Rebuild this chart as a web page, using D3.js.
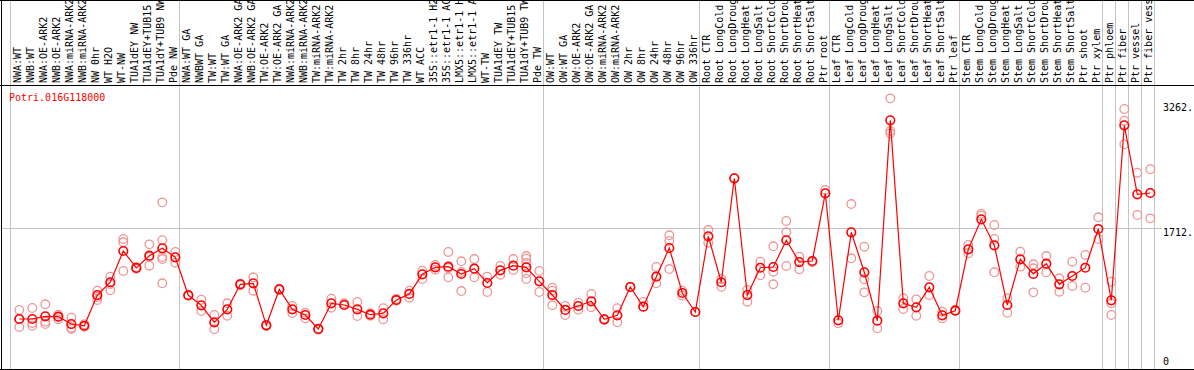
<!DOCTYPE html>
<html>
<head>
<meta charset="utf-8">
<script src="https://cdn.jsdelivr.net/npm/d3@7"></script>
<style>
  html, body { margin: 0; padding: 0; background: #fff; }
  svg { display: block; }
  text { font-family: "DejaVu Sans Mono", monospace; font-size: 10px; }
</style>
</head>
<body>
<div id="chart"></div>
<script>
// Sample labels (one column each)
const labels = [
  "NWA:WT", "NWB:WT", "NWA:OE-ARK2", "NWB:OE-ARK2", "NWA:miRNA-ARK2", "NWB:miRNA-ARK2",
  "NW 0hr", "WT H2O", "WT-NW", "TUA1dEY NW", "TUA1dEY+TUB15", "TUA1dY+TUB9 NW", "Pde NW",
  "NWA:WT GA", "NWBWT GA", "TW:WT", "TW:WT GA", "NWA:OE-ARK2 GA", "NWB:OE-ARK2 GA",
  "TW:OE-ARK2", "TW:OE-ARK2 GA", "NWA:miRNA-ARK2", "NWB:miRNA-ARK2", "TW:miRNA-ARK2",
  "TW:miRNA-ARK2", "TW 2hr", "TW 8hr", "TW 24hr", "TW 48hr", "TW 96hr", "TW 336hr",
  "WT ACC", "35S::etr1-1 H2O", "35S::etr1-1 ACC", "LMX5::etr1-1 H2O", "LMX5::etr1-1 ACC",
  "WT-TW", "TUA1dEY TW", "TUA1dEY+TUB15", "TUA1dY+TUB9 TW", "Pde TW",
  "OW:WT", "OW:WT GA", "OW:OE-ARK2", "OW:OE-ARK2 GA", "OW:miRNA-ARK2", "OW:miRNA-ARK2",
  "OW 2hr", "OW 8hr", "OW 24hr", "OW 48hr", "OW 96hr", "OW 336hr",
  "Root CTR", "Root LongCold", "Root LongDrought", "Root LongHeat", "Root LongSalt",
  "Root ShortCold", "Root ShortDrought", "Root ShortHeat", "Root ShortSalt", "Ptr root",
  "Leaf CTR", "Leaf LongCold", "Leaf LongDrought", "Leaf LongHeat", "Leaf LongSalt",
  "Leaf ShortCold", "Leaf ShortDrought", "Leaf ShortHeat", "Leaf ShortSalt", "Ptr leaf",
  "Stem CTR", "Stem LongCold", "Stem LongDrought", "Stem LongHeat", "Stem LongSalt",
  "Stem ShortCold", "Stem ShortDrought", "Stem ShortHeat", "Stem ShortSalt",
  "Ptr shoot", "Ptr xylem", "Ptr phloem", "Ptr fiber", "Ptr vessel", "Ptr fiber vessel"
];

// Mean expression per sample
const means = [
  591, 591, 624, 619, 529, 508, 886, 1043, 1428, 1219, 1370, 1461, 1350,
  883, 759, 550, 710, 1018, 1030, 513, 956, 710, 640, 468, 784, 763, 710, 644, 661, 825, 899,
  1141, 1227, 1235, 1145, 1210, 1034, 1190, 1247, 1227, 1055,
  886, 702, 751, 809, 587, 636, 985, 742, 1112, 1465, 911, 677,
  1609, 1043, 2323, 886, 1222, 1231, 1560, 1292, 1305, 2138,
  575, 1658, 1166, 570, 3037, 784, 735, 981, 636, 693,
  1449, 1818, 1498, 763, 1326, 1145, 1272, 1018, 1120, 1222, 1699,
  821, 2975, 2126, 2142
];

// Individual replicates per sample
const reps = [
  [702, 492, 591], [726, 542, 508], [772, 558, 529], [644, 587, 619], [607, 484, 468],
  [526, 496, 508], [939, 825, 862], [1112, 944, 1022], [1576, 1535, 1182], [1219, 1210, 1230],
  [1510, 1247, 1354], [2027, 1560, 1329, 1030, 1354], [1416, 1284],
  [883, 890, 876], [828, 689], [640, 464], [784, 631], [1018, 1010, 1025], [1104, 939],
  [513, 505, 520], [956, 948, 964], [751, 665], [599, 668], [468, 460, 475], [841, 730],
  [784, 763], [800, 628], [661, 631], [723, 587], [837, 816], [939, 853],
  [1185, 1083], [1256, 1198], [1416, 1104, 1219], [1301, 935, 1169], [1329, 1104],
  [1112, 923], [1243, 1136], [1329, 1194], [1366, 1333, 1153, 1083, 1280], [1182, 923],
  [976, 759, 939], [751, 640], [791, 705], [899, 735], [587, 580], [723, 550],
  [985], [800, 742], [1231, 1030], [1621, 1551, 1206], [939, 878], [677],
  [1686, 1530], [1083, 988], [2323], [948, 804], [1296, 1129], [1486, 1173, 1018],
  [1797, 1658, 1243], [1358, 1203], [1305, 1290], [2179],
  [538], [2006, 1338], [1481, 1080, 919], [689, 476], [3307, 2905, 2876], [846, 714],
  [833, 631], [1120, 886], [599, 681], [693, 705],
  [1502, 1399], [1887, 1862], [1748, 1576, 1166], [846, 668], [1419, 1235],
  [1264, 1215, 919], [1366, 1166], [1092, 927], [1296, 997], [1379, 976], [1843, 1576],
  [1050, 640, 784], [3176, 3032, 2741], [2392, 1871], [2434, 1830]
];

// column indexes where a group separator is drawn
const groupBreaks = [0, 13, 41, 53, 63, 73, 84, 85, 86, 87, 88];
const yTicks = [0, 1712, 3262];
const yTickLabels = ["0", "1712.", "3262."];
const geneId = "Potri.016G118000";

const width = 1194, height = 370;
const headerH = 85, plotBottom = 369;

const svg = d3.select("#chart").append("svg")
  .attr("width", width)
  .attr("height", height);

const x = d3.scaleBand()
  .domain(d3.range(labels.length))
  .range([11, 11 + 13 * labels.length])
  .padding(0);

const y = d3.scaleLinear()
  .domain([0, 3262])
  .range([367, 102]);

const px = i => x(i) + 8.3;

// grid lines
svg.append("g")
  .selectAll("line")
  .data(groupBreaks)
  .join("line")
  .attr("x1", k => Math.round(11 + 13 * k) - 0.5)
  .attr("x2", k => Math.round(11 + 13 * k) - 0.5)
  .attr("y1", 0)
  .attr("y2", plotBottom)
  .attr("stroke", "#c4c4c4");

svg.append("line")
  .attr("x1", 1).attr("x2", 1162)
  .attr("y1", Math.round(y(1712)) + 0.5).attr("y2", Math.round(y(1712)) + 0.5)
  .attr("stroke", "#c4c4c4");

// frame
svg.append("g")
  .attr("stroke", "#000")
  .selectAll("line")
  .data([
    [0, 0.5, width, 0.5],
    [0, headerH + 0.5, width, headerH + 0.5],
    [0, plotBottom + 0.5, width, plotBottom + 0.5],
    [1.5, 0, 1.5, height]
  ])
  .join("line")
  .attr("x1", d => d[0]).attr("y1", d => d[1])
  .attr("x2", d => d[2]).attr("y2", d => d[3]);

// column labels (vertical)
svg.append("g")
  .selectAll("text")
  .data(labels)
  .join("text")
  .attr("transform", (d, i) => `translate(${x(i) + 9.8},83) rotate(-90)`)
  .attr("fill", "#000")
  .text(d => d);

// right axis labels
svg.append("g")
  .selectAll("text")
  .data(yTicks)
  .join("text")
  .attr("x", 1163)
  .attr("y", d => Math.min(y(d) + 8.5, 365))
  .attr("fill", "#000")
  .text((d, i) => yTickLabels[i]);

// gene id
svg.append("text")
  .attr("x", 9)
  .attr("y", 101)
  .attr("fill", "#ff0000")
  .text(geneId);

// replicates
const repPts = reps.flatMap((r, i) => r.map(v => ({ i, v })));
svg.append("g")
  .selectAll("circle")
  .data(repPts)
  .join("circle")
  .attr("cx", d => px(d.i))
  .attr("cy", d => y(d.v))
  .attr("r", 4.3)
  .attr("fill", "none")
  .attr("stroke", "rgb(238,150,150)")
  .attr("stroke-width", 1.3);

// mean line
svg.append("path")
  .datum(means)
  .attr("fill", "none")
  .attr("stroke", "#ff0000")
  .attr("stroke-width", 1.2)
  .attr("d", d3.line().x((d, i) => px(i)).y(d => y(d)));

svg.append("g")
  .selectAll("circle")
  .data(means)
  .join("circle")
  .attr("cx", (d, i) => px(i))
  .attr("cy", d => y(d))
  .attr("r", 4.3)
  .attr("fill", "none")
  .attr("stroke", "#ff0000")
  .attr("stroke-width", 1.6);
</script>
</body>
</html>
